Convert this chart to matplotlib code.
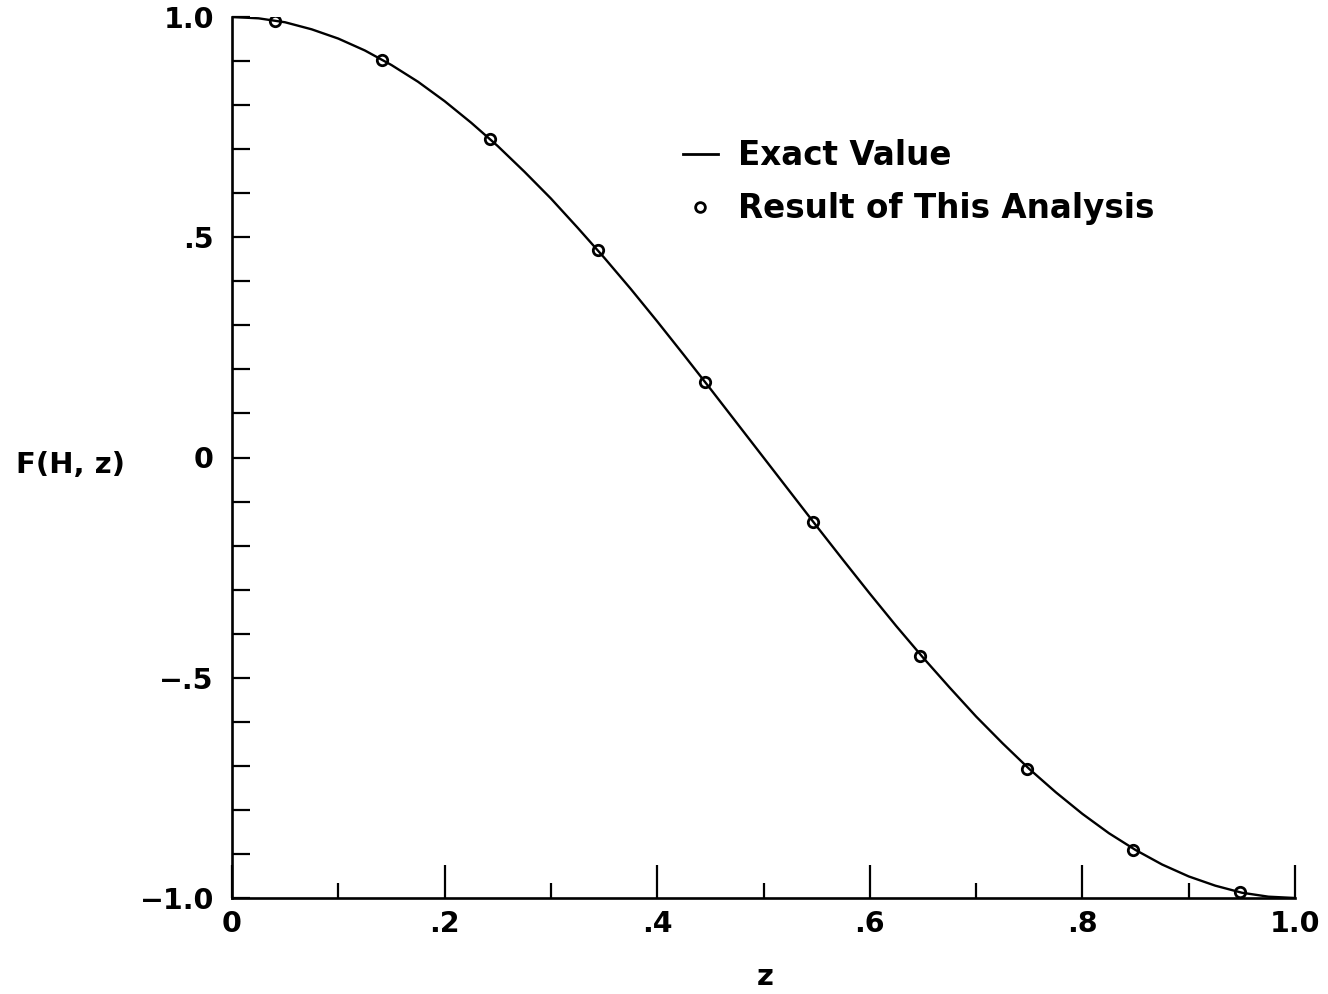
import matplotlib
matplotlib.use("Agg")
import matplotlib.pyplot as plt
from matplotlib.ticker import FixedLocator, FixedFormatter, MultipleLocator, NullFormatter
from matplotlib.lines import Line2D

plt.rcParams['font.family'] = ['DejaVu Sans']
plt.rcParams['font.weight'] = 'bold'

# Exact curve
z_exact = [0.000, 0.025, 0.050, 0.075, 0.100, 0.125, 0.150, 0.175, 0.200, 0.225,
           0.250, 0.275, 0.300, 0.325, 0.350, 0.375, 0.400, 0.425, 0.450, 0.475,
           0.500, 0.525, 0.550, 0.575, 0.600, 0.625, 0.650, 0.675, 0.700, 0.725,
           0.750, 0.775, 0.800, 0.825, 0.850, 0.875, 0.900, 0.925, 0.950, 0.975, 1.000]
f_exact = [1.000, 0.997, 0.988, 0.972, 0.951, 0.924, 0.891, 0.853, 0.809, 0.760,
           0.707, 0.649, 0.588, 0.522, 0.454, 0.383, 0.309, 0.233, 0.156, 0.078,
           0.000, -0.078, -0.156, -0.233, -0.309, -0.383, -0.454, -0.522, -0.588, -0.649,
           -0.707, -0.760, -0.809, -0.853, -0.891, -0.924, -0.951, -0.972, -0.988, -0.997, -1.000]

# Results of this analysis (circles)
z_result = [0.040, 0.141, 0.243, 0.344, 0.445, 0.547, 0.647, 0.748, 0.848, 0.948]
f_result = [0.992, 0.903, 0.724, 0.472, 0.172, -0.147, -0.450, -0.708, -0.890, -0.987]

x_ticks = [0.0, 0.2, 0.4, 0.6, 0.8, 1.0]
x_ticklabels = ['0', '.2', '.4', '.6', '.8', '1.0']
y_ticks = [-1.0, -0.5, 0.0, 0.5, 1.0]
y_ticklabels = ['\u22121.0', '\u2212.5', '0', '.5', '1.0']

W, H = 1328, 994
fig = plt.figure(figsize=(W / 100, H / 100), dpi=100)
ax = fig.add_axes([232 / W, 1 - 898 / H, 1063 / W, 881 / H])

ax.plot(z_exact, f_exact, color='black', lw=1.7, zorder=2)
ax.plot(z_result, f_result, linestyle='none', marker='o', ms=7.5, mfc='none',
        mec='black', mew=2.0, zorder=3)

ax.set_xlim(0, 1.0)
ax.set_ylim(-1.0, 1.0)

for s in ['top', 'right']:
    ax.spines[s].set_visible(False)
for s in ['left', 'bottom']:
    ax.spines[s].set_linewidth(1.9)

ax.xaxis.set_major_locator(FixedLocator(x_ticks))
ax.xaxis.set_major_formatter(FixedFormatter(x_ticklabels))
ax.xaxis.set_minor_locator(FixedLocator([0.1, 0.3, 0.5, 0.7, 0.9]))
ax.yaxis.set_major_locator(FixedLocator(y_ticks))
ax.yaxis.set_major_formatter(FixedFormatter(y_ticklabels))
ax.yaxis.set_minor_locator(MultipleLocator(0.1))
ax.yaxis.set_minor_formatter(NullFormatter())

ax.tick_params(axis='x', which='major', direction='in', length=24, width=1.6,
               labelsize=20.5, pad=9)
ax.tick_params(axis='x', which='minor', direction='in', length=11, width=1.6)
ax.tick_params(axis='y', which='major', direction='in', length=13, width=1.6,
               labelsize=20.5, pad=13)
ax.tick_params(axis='y', which='minor', direction='in', length=13, width=1.6)
for lab in ax.get_xticklabels() + ax.get_yticklabels():
    lab.set_fontweight('bold')

fig.text(70 / W, 1 - 465 / H, 'F(H, z)', fontsize=21, fontweight='bold',
         ha='center', va='center')
fig.text(765 / W, 1 - 977 / H, 'z', fontsize=21, fontweight='bold',
         ha='center', va='center')

handles = [Line2D([], [], color='black', lw=2.0),
           Line2D([], [], linestyle='none', marker='o', ms=7, mfc='none',
                  mec='black', mew=2.0)]
leg = ax.legend(handles, ['Exact Value', 'Result of This Analysis'],
                loc='upper left', bbox_to_anchor=(683 / W, 1 - 139 / H),
                bbox_transform=fig.transFigure, frameon=False,
                prop={'size': 23.5, 'weight': 'bold'}, handlelength=1.07,
                handletextpad=0.6, labelspacing=0.62, borderpad=0,
                borderaxespad=0)

fig.savefig('out.png', dpi=100)
